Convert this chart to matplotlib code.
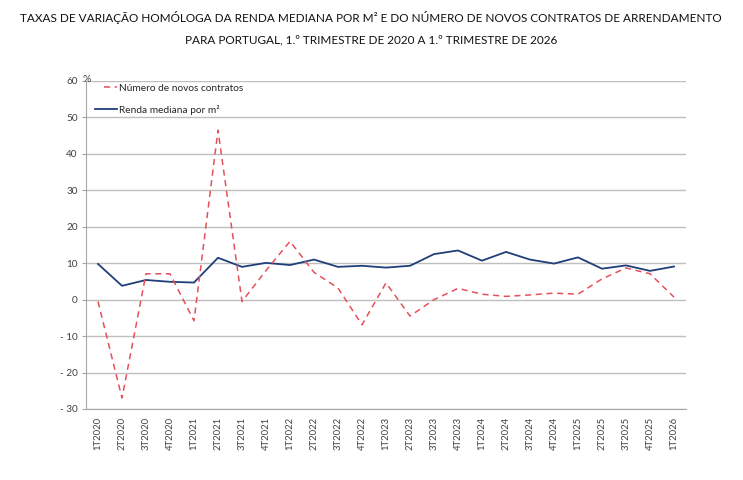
import matplotlib
matplotlib.use("Agg")
import matplotlib.pyplot as plt
from matplotlib.lines import Line2D

plt.rcParams['font.family'] = ['Lato', 'DejaVu Sans']

categories = ["1T2020", "2T2020", "3T2020", "4T2020",
              "1T2021", "2T2021", "3T2021", "4T2021",
              "1T2022", "2T2022", "3T2022", "4T2022",
              "1T2023", "2T2023", "3T2023", "4T2023",
              "1T2024", "2T2024", "3T2024", "4T2024",
              "1T2025", "2T2025", "3T2025", "4T2025",
              "1T2026"]

novos_contratos = [-0.5, -27.0, 7.1, 7.1,
                   -5.8, 46.5, -0.5, 8.0,
                   16.0, 7.5, 3.2, -6.9,
                   4.6, -4.5, 0.0, 3.1,
                   1.5, 0.9, 1.3, 1.8,
                   1.5, 5.7, 8.7, 7.1,
                   0.7]

renda_mediana = [9.8, 3.8, 5.4, 4.9,
                 4.7, 11.5, 9.0, 10.1,
                 9.5, 11.0, 9.0, 9.3,
                 8.8, 9.3, 12.5, 13.5,
                 10.7, 13.1, 11.0, 9.9,
                 11.6, 8.5, 9.4, 7.9,
                 9.1]

y_ticks = [60, 50, 40, 30, 20, 10, 0, -10, -20, -30]
y_tick_labels = ["60", "50", "40", "30", "20", "10", "0", "- 10", "- 20", "- 30"]

title_line1 = "TAXAS DE VARIAÇÃO HOMÓLOGA DA RENDA MEDIANA POR M² E DO NÚMERO DE NOVOS CONTRATOS DE ARRENDAMENTO"
title_line2 = "PARA PORTUGAL, 1.º TRIMESTRE DE 2020 A 1.º TRIMESTRE DE 2026"
label_red = "Número de novos contratos"
label_blue = "Renda mediana por m²"

W, H = 743, 480
fig = plt.figure(figsize=(W / 100, H / 100), dpi=100)
ax = fig.add_axes([86 / W, 1 - 409 / H, 600 / W, 328 / H])

red = "#e5505a"
blue = "#1f3f7a"
grid_c = "#bfbfbf"
txt_c = "#404040"

x = list(range(len(categories)))
ax.plot(x, renda_mediana, color=blue, lw=1.3, zorder=3)
ax.plot(x, novos_contratos, color=red, lw=1.1, dashes=(4, 3), zorder=3)

ax.set_xlim(-0.5, len(categories) - 0.5)
ax.set_ylim(-30, 60)
ax.set_yticks(y_ticks)
ax.set_yticklabels(y_tick_labels)
ax.set_xticks(x)
ax.set_xticklabels(categories, rotation=90)

ax.grid(axis='y', color=grid_c, lw=1.0)
ax.set_axisbelow(True)
for s in ['top', 'right']:
    ax.spines[s].set_visible(False)
ax.spines['left'].set_color("#a6a6a6")
ax.spines['bottom'].set_color("#a6a6a6")
ax.tick_params(axis='y', length=3, color="#a6a6a6", pad=3, labelsize=7.2, labelcolor=txt_c)
ax.tick_params(axis='x', length=0, pad=6, labelsize=6.8, labelcolor=txt_c)

ax.text(-0.006, 1.005, "%", transform=ax.transAxes, ha='left', va='center',
        fontsize=7.5, color=txt_c)

# legends
h_red = Line2D([], [], color=red, lw=1.1, dashes=(4, 3))
h_blue = Line2D([], [], color=blue, lw=1.3)
leg1 = fig.legend([h_red], [label_red], loc='center left',
                  bbox_to_anchor=(104 / W, 1 - 88 / H), frameon=False,
                  borderpad=0, borderaxespad=0, handlelength=1.3,
                  handletextpad=0.15, fontsize=7.3)
leg2 = fig.legend([h_blue], [label_blue], loc='center left',
                  bbox_to_anchor=(95 / W, 1 - 110 / H), frameon=False,
                  borderpad=0, borderaxespad=0, handlelength=2.2,
                  handletextpad=0.15, fontsize=7.3)
for lg in (leg1, leg2):
    for t in lg.get_texts():
        t.set_color("#262626")

fig.text(371 / W, 1 - 18 / H, title_line1, ha='center', va='center', fontsize=8.45, color="#111111")
fig.text(371 / W, 1 - 40 / H, title_line2, ha='center', va='center', fontsize=8.45, color="#111111")

fig.savefig("out.png", dpi=100)
